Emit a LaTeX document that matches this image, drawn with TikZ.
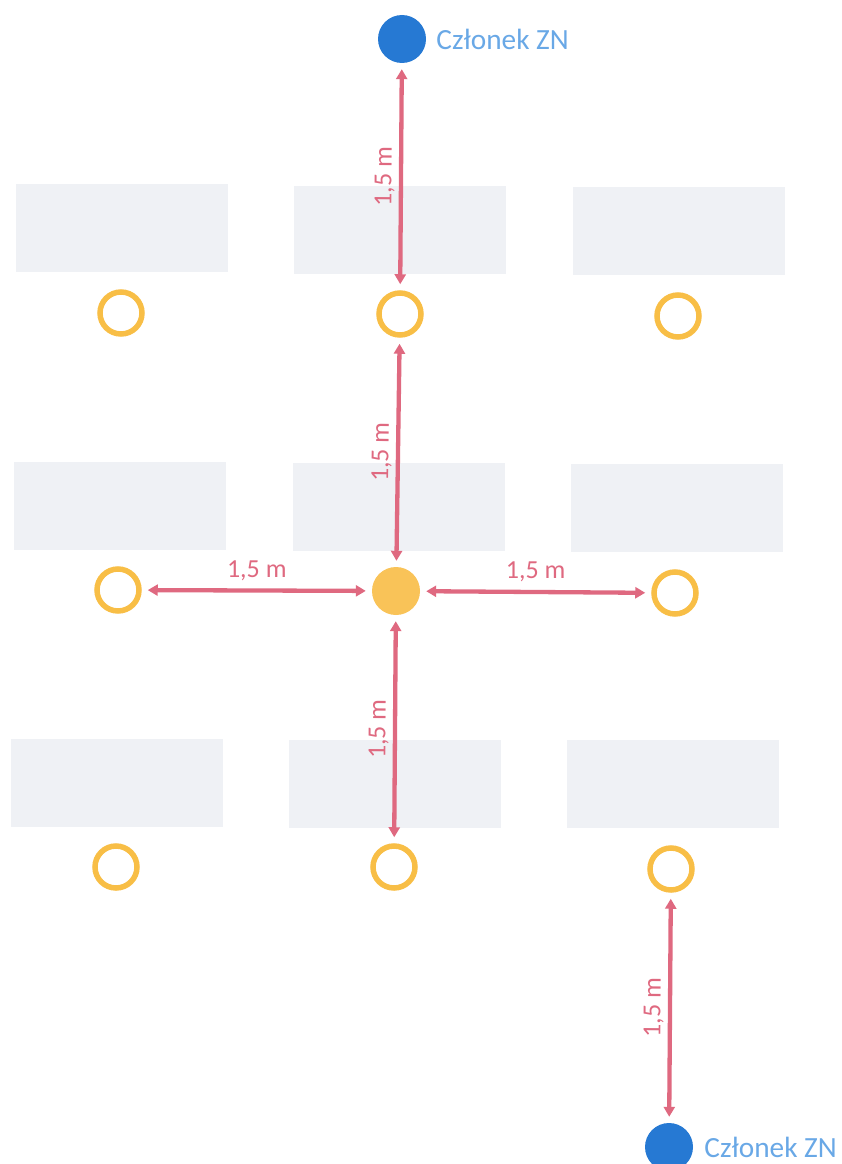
\documentclass[tikz,border=0pt]{standalone}
\usepackage{fontspec}
\setmainfont{Carlito}
\usetikzlibrary{arrows.meta}
\definecolor{rectgray}{RGB}{239,241,245}
\definecolor{ringor}{RGB}{248,190,70}
\definecolor{dotor}{RGB}{249,195,88}
\definecolor{pinkar}{RGB}{223,105,128}
\definecolor{bluedot}{RGB}{38,121,211}
\definecolor{bluetxt}{RGB}{105,168,230}
\begin{document}
\begin{tikzpicture}[x=1pt,y=-1pt,
  seat/.style={fill=rectgray, draw=none, minimum width=212pt, minimum height=88pt, inner sep=0pt},
  ring/.style={circle, draw=ringor, line width=5.5pt, minimum size=42pt, inner sep=0pt},
  centre/.style={circle, fill=dotor, draw=none, minimum size=48pt, inner sep=0pt},
  member/.style={circle, fill=bluedot, draw=none, minimum size=48pt, inner sep=0pt},
  memberlbl/.style={text=bluetxt, font=\fontsize{29.3}{35}\selectfont, inner sep=2pt, anchor=west},
  dist/.style={draw=pinkar, line width=4.3pt, {Triangle[length=10pt,width=11pt]}-{Triangle[length=10pt,width=11pt]}, shorten <=6pt, shorten >=6pt},
  distlbl/.style={text=pinkar, font=\fontsize{26}{30}\selectfont, inner sep=4pt}
]
\useasboundingbox (0,0) rectangle (842,1164);
% seats (rows of tables)
\node[seat] (s11) at (121.5,228) {};
\node[seat] (s12) at (399.5,229.5) {};
\node[seat] (s13) at (679,231) {};
\node[seat] (s21) at (119.5,505.5) {};
\node[seat] (s22) at (399,506.5) {};
\node[seat] (s23) at (676.5,507.5) {};
\node[seat] (s31) at (117,782.5) {};
\node[seat] (s32) at (395,783.5) {};
\node[seat] (s33) at (673,784) {};
% persons
\node[ring] (r11) at (121,313) {};
\node[ring] (r12) at (400,314) {};
\node[ring] (r13) at (678,316) {};
\node[ring] (r21) at (118,590) {};
\node[centre] (c) at (396,591) {};
\node[ring] (r23) at (675,593) {};
\node[ring] (r31) at (116,867) {};
\node[ring] (r32) at (394,867) {};
\node[ring] (r33) at (671,869) {};
% members
\node[member] (b1) at (402,39) {};
\node[memberlbl] (b1l) at ([xshift=8pt]b1.east) {Członek ZN};
\node[member] (b2) at (669,1147) {};
\node[memberlbl] (b2l) at ([xshift=9pt]b2.east) {Członek ZN};
% distances
\draw[dist] (r12) -- node[distlbl, midway, sloped, above] {1,5 m} (b1);
\draw[dist] (c) -- node[distlbl, midway, sloped, above] {1,5 m} (r12);
\draw[dist] (r21) -- node[distlbl, midway, above, yshift=4pt] {1,5 m} (c);
\draw[dist] (c) -- node[distlbl, midway, above, yshift=4pt] {1,5 m} (r23);
\draw[dist] (r32) -- node[distlbl, midway, sloped, above] {1,5 m} (c);
\draw[dist] (b2) -- node[distlbl, midway, sloped, above] {1,5 m} (r33);
\end{tikzpicture}
\end{document}
